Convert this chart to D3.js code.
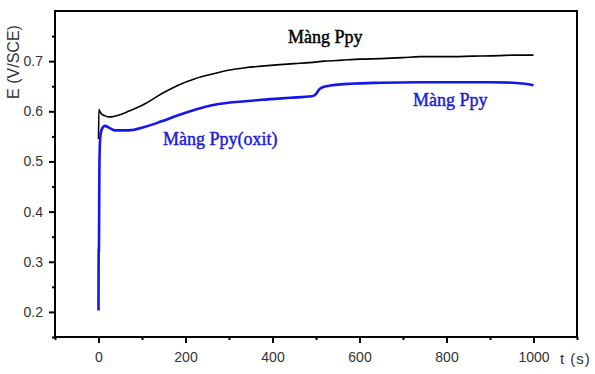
<!DOCTYPE html>
<html>
<head>
<meta charset="utf-8">
<script src="https://cdn.jsdelivr.net/npm/d3@7"></script>
<style>
  body { margin: 0; background: #fff; }
  svg { display: block; }
</style>
</head>
<body>
<svg id="chart" width="595" height="374"></svg>
<script>
// dữ liệu
const t_ppy = [0, 1, 3, 8, 15, 22, 30, 45, 69, 107, 145, 183, 222, 260, 298, 337, 375, 417, 450, 486, 520, 560, 601, 650, 700, 739, 800, 861, 920, 953, 980, 1000];
const e_ppy = [0.545, 0.604, 0.600, 0.594, 0.591, 0.589, 0.589, 0.592, 0.600, 0.615, 0.635, 0.652, 0.665, 0.674, 0.682, 0.687, 0.690, 0.693, 0.695, 0.697, 0.700, 0.702, 0.704, 0.705, 0.707, 0.709, 0.709, 0.710, 0.711, 0.712, 0.712, 0.712];
const t_oxit = [0, 0.5, 1, 1.5, 2, 3, 5, 8, 15, 25, 38, 69, 107, 145, 183, 222, 260, 298, 337, 375, 440, 490, 497, 509, 524, 578, 650, 739, 800, 900, 953, 980, 1000];
const e_oxit = [0.203, 0.33, 0.32, 0.40, 0.48, 0.53, 0.555, 0.565, 0.571, 0.567, 0.562, 0.562, 0.569, 0.580, 0.592, 0.603, 0.612, 0.617, 0.620, 0.623, 0.627, 0.630, 0.632, 0.645, 0.650, 0.655, 0.657, 0.658, 0.658, 0.658, 0.657, 0.655, 0.652];
const x_ticks = [0, 200, 400, 600, 800, 1000];
const x_minor = [-100, 100, 300, 500, 700, 900, 1100];
const y_ticks = [0.2, 0.3, 0.4, 0.5, 0.6, 0.7];
const y_minor = [0.15, 0.25, 0.35, 0.45, 0.55, 0.65, 0.75];
const labels = ["Màng Ppy", "Màng Ppy(oxit)", "Màng Ppy"];
const label_colors = ["#000", "#1c1cd8", "#1c1cd8"];

const SVG = d3.select("#chart");
const M = {left: 55, right: 577, top: 11, bottom: 337};
const X_SCALE = d3.scaleLinear().domain([-100, 1100]).range([M.left, M.right]);
const Y_SCALE = d3.scaleLinear().domain([0.15, 0.80]).range([M.bottom, M.top]);
const FONT = "Liberation Sans, Arial, sans-serif";

/** trục **/
function draw_axes() {
    let gx = SVG.append("g").attr("transform", `translate(0,${M.bottom})`);
    gx.call(d3.axisBottom(X_SCALE).tickValues(x_minor).tickSize(3).tickFormat(""));
    gx.call(g => g.append("g").call(d3.axisBottom(X_SCALE).tickValues(x_ticks).tickSize(6).tickPadding(9).tickFormat(d3.format("d"))));
    let gy = SVG.append("g").attr("transform", `translate(${M.left},0)`);
    gy.call(d3.axisLeft(Y_SCALE).tickValues(y_minor).tickSize(3).tickFormat(""));
    gy.call(g => g.append("g").call(d3.axisLeft(Y_SCALE).tickValues(y_ticks).tickSize(6).tickPadding(6).tickFormat(d3.format(".1f"))));
    SVG.selectAll(".domain").remove();
    SVG.selectAll(".tick line").attr("stroke", "#000").attr("stroke-width", 2);
    SVG.selectAll(".tick text").attr("font-family", FONT).attr("font-size", 14).attr("fill", "#333");

    SVG.append("rect")
        .attr("x", M.left).attr("y", M.top)
        .attr("width", M.right - M.left).attr("height", M.bottom - M.top)
        .attr("fill", "none").attr("stroke", "#000").attr("stroke-width", 2);

    SVG.append("text")
        .text("E (V/SCE)")
        .attr("transform", "translate(19,62) rotate(-90)")
        .attr("text-anchor", "middle")
        .attr("font-family", FONT).attr("font-size", 16).attr("fill", "#333");
    SVG.append("text")
        .text("t (s)")
        .attr("x", 560).attr("y", 364)
        .attr("font-family", FONT).attr("font-size", 15).attr("letter-spacing", 1).attr("fill", "#333");
}

/** đường cong **/
function draw_curve(ts, es, color, width) {
    let line = d3.line().curve(d3.curveMonotoneX).x(d => X_SCALE(d[0])).y(d => Y_SCALE(d[1]));
    SVG.append("path")
        .datum(d3.zip(ts, es))
        .attr("d", line)
        .attr("fill", "none")
        .attr("stroke", color)
        .attr("stroke-width", width)
        .attr("stroke-linejoin", "round");
}

draw_axes();
draw_curve(t_ppy, e_ppy, "#000", 1.6);
draw_curve(t_oxit, e_oxit, "#1515ee", 2.6);

// nhãn chú thích
const LABEL_POS = [[288, 43], [163, 145], [413, 106]];
labels.forEach((d, i) => {
    SVG.append("text")
        .text(d)
        .attr("x", LABEL_POS[i][0]).attr("y", LABEL_POS[i][1])
        .attr("font-family", "Liberation Serif, Times New Roman, serif")
        .attr("font-size", 18)
        .attr("fill", label_colors[i])
        .attr("stroke", label_colors[i]).attr("stroke-width", 0.45);
});
</script>
</body>
</html>
